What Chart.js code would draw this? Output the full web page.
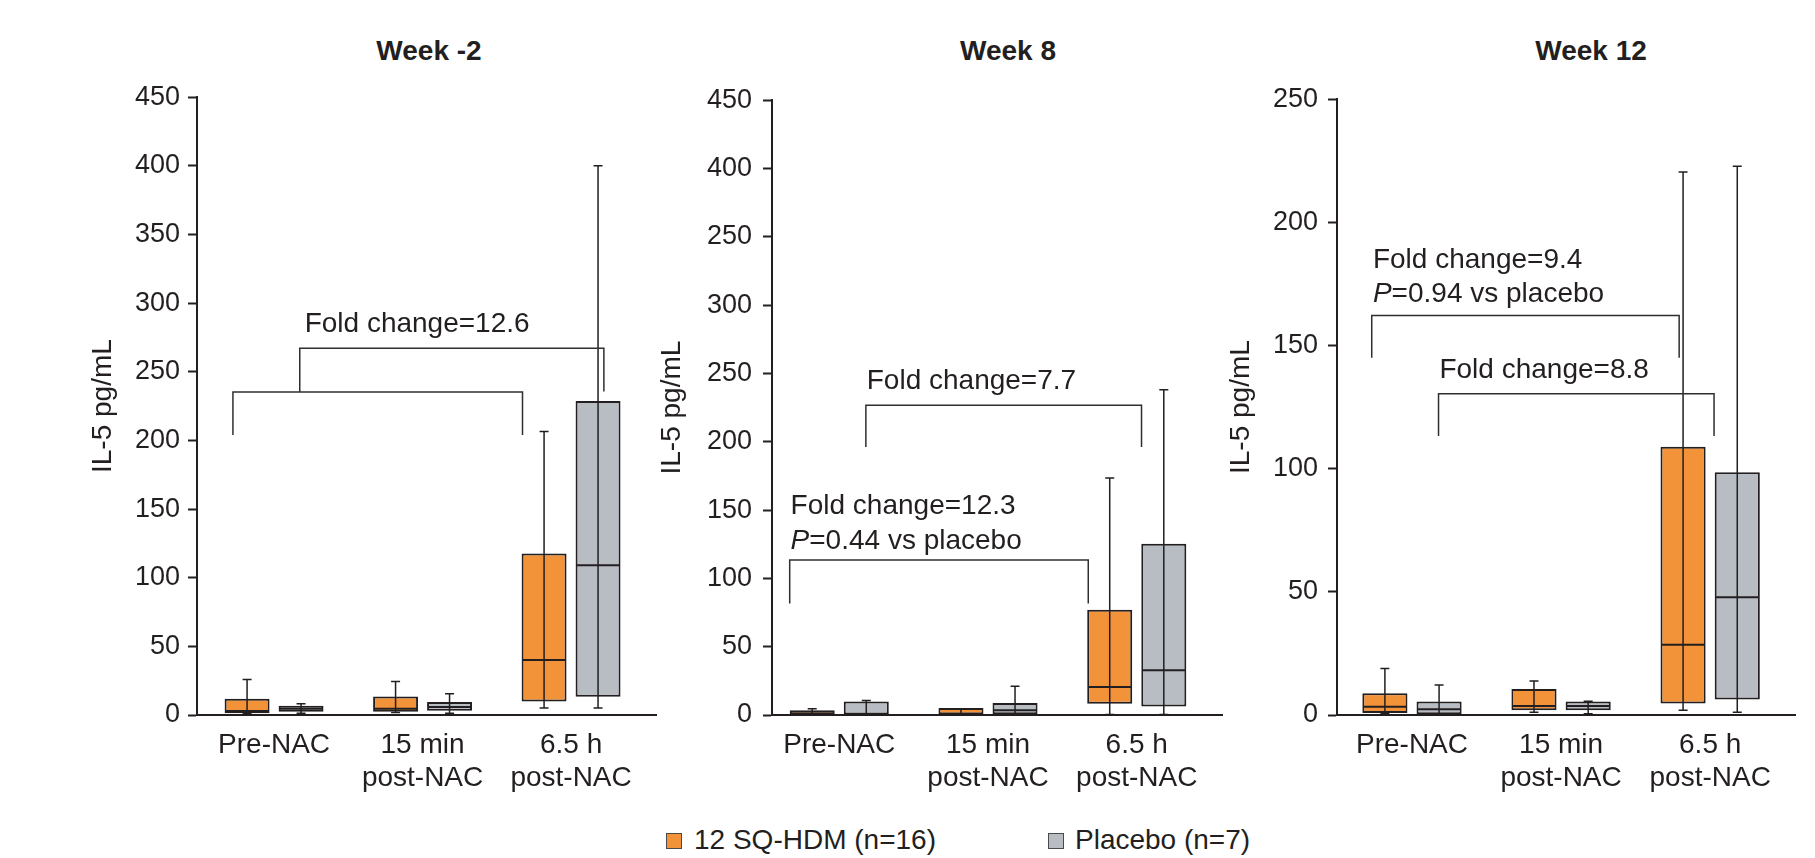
<!DOCTYPE html>
<html>
<head>
<meta charset="utf-8">
<script src="https://cdn.jsdelivr.net/npm/chart.js@4.4.1/dist/chart.umd.min.js"></script>
<style>
  html, body { margin: 0; padding: 0; background: #ffffff; }
  body { width: 1815px; height: 858px; position: relative; overflow: hidden;
         font-family: 'Liberation Sans', Arial, Helvetica, sans-serif; color: #231f20; }
  canvas { position: absolute; }
  .ptitle { position: absolute; top: 37px; font-size: 28px; line-height: 28px; font-weight: bold;
            transform: translateX(-50%); white-space: nowrap; }
  .legend { position: absolute; top: 826px; font-size: 28px; line-height: 28px; white-space: nowrap; }
  .swatch { position: absolute; width: 14px; height: 14px; border: 1px solid #4a4a4a; }
</style>
</head>
<body>
<div class="ptitle" id="t0" style="left:429px"></div>
<div class="ptitle" id="t1" style="left:1008px"></div>
<div class="ptitle" id="t2" style="left:1591px"></div>

<div class="swatch" style="left:666px; top:833px; background:#F29239"></div>
<div class="legend" id="lg0" style="left:694px"></div>
<div class="swatch" style="left:1048px; top:833px; background:#B7BDC3"></div>
<div class="legend" id="lg1" style="left:1075px"></div>

<canvas id="c0" width="572" height="742" style="left:86px; top:73px"></canvas>
<canvas id="c1" width="569" height="742" style="left:655px; top:73px"></canvas>
<canvas id="c2" width="573" height="742" style="left:1224px; top:73px"></canvas>

<script>
// ---------------- data ----------------
const categories = ['Pre-NAC', ['15 min', 'post-NAC'], ['6.5 h', 'post-NAC']];
const seriesNames = ['12 SQ-HDM (n=16)', 'Placebo (n=7)'];
const panelTitles = ['Week -2', 'Week 8', 'Week 12'];
const yAxisTitle = 'IL-5 pg/mL';

const yTickLabelsWkM2 = ['0', '50', '100', '150', '200', '250', '300', '350', '400', '450'];
const yTickLabelsWk8  = ['0', '50', '100', '150', '200', '250', '300', '250', '400', '450'];
const yTickLabelsWk12 = ['0', '50', '100', '150', '200', '250'];

// Week -2
const wkM2HdmMin = [1.0, 1.9, 5.1];
const wkM2HdmQ1  = [1.2, 2.4, 9.9];
const wkM2HdmMed = [2.9, 4.6, 40];
const wkM2HdmQ3  = [11.8, 13.5, 117.6];
const wkM2HdmMax = [25.8, 24.4, 206.5];
const wkM2PboMin = [1.2, 1.2, 5.1];
const wkM2PboQ1  = [2.4, 3.1, 13.3];
const wkM2PboMed = [4.6, 5.8, 109];
const wkM2PboQ3  = [6.8, 9.4, 228.8];
const wkM2PboMax = [8.2, 15.4, 400];

// Week 8
const wk8HdmMin = [0.3, 0.3, 0.3];
const wk8HdmQ1  = [0.4, 0.4, 8.2];
const wk8HdmMed = [1.0, 1.0, 20.5];
const wk8HdmQ3  = [3.4, 5.1, 77];
const wk8HdmMax = [4.6, 4.5, 173.4];
const wk8PboMin = [0.3, 0.3, 0.3];
const wk8PboQ1  = [0.4, 0.5, 6.3];
const wk8PboMed = [0.6, 3.4, 32.8];
const wk8PboQ3  = [9.9, 8.7, 125.4];
const wk8PboMax = [10.6, 21, 238];

// Week 12
const wk12HdmMin = [0.6, 1.1, 1.9];
const wk12HdmQ1  = [0.8, 1.9, 4.7];
const wk12HdmMed = [3.3, 3.7, 28.5];
const wk12HdmQ3  = [8.8, 10.6, 108.9];
const wk12HdmMax = [18.9, 13.8, 220.4];
const wk12PboMin = [0.2, 0.5, 1.1];
const wk12PboQ1  = [0.3, 1.9, 6.3];
const wk12PboMed = [2.3, 3.7, 47.8];
const wk12PboQ3  = [5.5, 5.5, 98.6];
const wk12PboMax = [12.2, 5.6, 222.8];

// Annotation texts
const foldWkM2 = 'Fold change=12.6';
const foldWk8A = 'Fold change=7.7';
const foldWk8B = 'Fold change=12.3';
const pWk8B = '=0.44 vs placebo';
const foldWk12A = 'Fold change=9.4';
const pWk12A = '=0.94 vs placebo';
const foldWk12B = 'Fold change=8.8';

// ---------------- styling ----------------
const INK = '#231f20';
const FONT = "'Liberation Sans', Arial, Helvetica, sans-serif";
const ORANGE = '#F29239';
const GREY = '#B7BDC3';

document.getElementById('t0').textContent = panelTitles[0];
document.getElementById('t1').textContent = panelTitles[1];
document.getElementById('t2').textContent = panelTitles[2];
document.getElementById('lg0').textContent = seriesNames[0];
document.getElementById('lg1').textContent = seriesNames[1];

Chart.defaults.font.family = FONT;
Chart.defaults.color = INK;

const boxExtras = {
  id: 'boxExtras',
  afterDatasetsDraw(chart, args, opts) {
    const ctx = chart.ctx;
    const ys = chart.scales.y, xs = chart.scales.x;
    chart.data.datasets.forEach((ds, di) => {
      const meta = chart.getDatasetMeta(di);
      meta.data.forEach((bar, i) => {
        const x = bar.x, half = bar.width / 2;
        const yMin = ys.getPixelForValue(ds.whMin[i]);
        const yMax = ys.getPixelForValue(ds.whMax[i]);
        const yMed = ys.getPixelForValue(ds.med[i]);
        ctx.save();
        ctx.strokeStyle = INK;
        ctx.lineWidth = 1.5;
        ctx.beginPath();
        ctx.moveTo(x, yMin); ctx.lineTo(x, yMax);
        ctx.moveTo(x - 4.5, yMax); ctx.lineTo(x + 4.5, yMax);
        ctx.moveTo(x - 4.5, yMin); ctx.lineTo(x + 4.5, yMin);
        ctx.stroke();
        ctx.lineWidth = 2;
        ctx.beginPath();
        ctx.moveTo(x - half + 1, yMed); ctx.lineTo(x + half - 1, yMed);
        ctx.stroke();
        ctx.restore();
      });
    });
    (opts.brackets || []).forEach(b => {
      ctx.save();
      ctx.strokeStyle = '#2f2f2f';
      ctx.lineWidth = 1.5;
      const xl = xs.getPixelForValue(b.x1), xr = xs.getPixelForValue(b.x2);
      const yt = ys.getPixelForValue(b.top);
      ctx.beginPath();
      ctx.moveTo(xl, ys.getPixelForValue(b.legL));
      ctx.lineTo(xl, yt);
      ctx.lineTo(xr, yt);
      ctx.lineTo(xr, ys.getPixelForValue(b.legR));
      ctx.stroke();
      ctx.restore();
    });
    (opts.texts || []).forEach(t => {
      ctx.save();
      ctx.fillStyle = INK;
      ctx.textBaseline = 'alphabetic';
      ctx.textAlign = 'left';
      let px = xs.getPixelForValue(t.x);
      const py = ys.getPixelForValue(t.y);
      t.parts.forEach(p => {
        ctx.font = (p.italic ? 'italic ' : '') + '28px ' + FONT;
        ctx.fillText(p.s, px, py);
        px += ctx.measureText(p.s).width;
      });
      ctx.restore();
    });
  }
};

function makePanel(canvasId, cfg) {
  const mk = (stats, color) => ({
    data: stats.q1.map((q, i) => ({ x: i, y: [q, stats.q3[i]] })),
    whMin: stats.min, whMax: stats.max, med: stats.med,
    backgroundColor: color,
    borderColor: INK,
    borderWidth: 2,
    borderSkipped: false,
    categoryPercentage: 0.727,
    barPercentage: 0.833
  });
  return new Chart(document.getElementById(canvasId), {
    type: 'bar',
    data: {
      datasets: [
        Object.assign(mk(cfg.hdm, ORANGE), { label: seriesNames[0] }),
        Object.assign(mk(cfg.pbo, GREY), { label: seriesNames[1] })
      ]
    },
    options: {
      responsive: false,
      animation: false,
      events: [],
      layout: { padding: { top: 20, right: 2, left: 0, bottom: 0 } },
      plugins: {
        legend: { display: false },
        tooltip: { enabled: false },
        title: { display: false },
        boxExtras: { brackets: cfg.brackets, texts: cfg.texts }
      },
      scales: {
        x: {
          type: 'linear',
          offset: false,
          min: cfg.xMin, max: cfg.xMax,
          afterBuildTicks: s => { s.ticks = categories.map((c, i) => ({ value: i })); },
          afterFit: s => { s.height = 100; },
          ticks: {
            callback: v => categories[Math.round(v)],
            font: { size: 28 }, color: INK, padding: 13,
            autoSkip: false, maxRotation: 0, minRotation: 0
          },
          grid: { display: false, drawTicks: false, offset: false },
          border: { display: true, color: INK, width: 2 }
        },
        y: {
          type: 'linear',
          min: 0, max: cfg.yMax,
          afterFit: s => { s.width = cfg.yWidth; },
          ticks: {
            stepSize: 50,
            callback: v => cfg.yLabels[Math.round(v / 50)],
            font: { size: 27 }, color: INK, padding: cfg.tickPad
          },
          grid: { display: true, drawOnChartArea: false, drawTicks: true,
                  tickLength: 9, tickWidth: 2, tickColor: INK, color: INK },
          border: { display: true, color: INK, width: 2 },
          title: { display: true, text: yAxisTitle, font: { size: 28 }, color: INK, padding: 0 }
        }
      }
    },
    plugins: [boxExtras]
  });
}

makePanel('c0', {
  xMin: -0.519, xMax: 2.572, yMax: 450, yWidth: 111, tickPad: 8, yLabels: yTickLabelsWkM2,
  hdm: { min: wkM2HdmMin, q1: wkM2HdmQ1, med: wkM2HdmMed, q3: wkM2HdmQ3, max: wkM2HdmMax },
  pbo: { min: wkM2PboMin, q1: wkM2PboQ1, med: wkM2PboMed, q3: wkM2PboQ3, max: wkM2PboMax },
  brackets: [
    { x1: -0.277, x2: 1.673, top: 235.2, legL: 203.9, legR: 203.9 },
    { x1: 0.173, x2: 2.221, top: 267.1, legL: 235.2, legR: 235.7 }
  ],
  texts: [ { x: 0.206, y: 279.2, parts: [{ s: foldWkM2 }] } ]
});

makePanel('c1', {
  xMin: -0.452, xMax: 2.573, yMax: 450, yWidth: 117, tickPad: 11, yLabels: yTickLabelsWk8,
  hdm: { min: wk8HdmMin, q1: wk8HdmQ1, med: wk8HdmMed, q3: wk8HdmQ3, max: wk8HdmMax },
  pbo: { min: wk8PboMin, q1: wk8PboQ1, med: wk8PboMed, q3: wk8PboQ3, max: wk8PboMax },
  brackets: [
    { x1: 0.179, x2: 2.032, top: 226.8, legL: 196.2, legR: 196.2 },
    { x1: -0.333, x2: 1.674, top: 113.4, legL: 81.6, legR: 81.6 }
  ],
  texts: [
    { x: 0.185, y: 238.8, parts: [{ s: foldWk8A }] },
    { x: -0.327, y: 147.2, parts: [{ s: foldWk8B }] },
    { x: -0.327, y: 121.8, parts: [{ s: 'P', italic: true }, { s: pWk8B }] }
  ]
});

makePanel('c2', {
  xMin: -0.503, xMax: 2.569, yMax: 250, yWidth: 113, tickPad: 10, yLabels: yTickLabelsWk12,
  hdm: { min: wk12HdmMin, q1: wk12HdmQ1, med: wk12HdmMed, q3: wk12HdmQ3, max: wk12HdmMax },
  pbo: { min: wk12PboMin, q1: wk12PboQ1, med: wk12PboMed, q3: wk12PboQ3, max: wk12PboMax },
  brackets: [
    { x1: -0.270, x2: 1.792, top: 162.2, legL: 145.0, legR: 145.0 },
    { x1: 0.178, x2: 2.026, top: 130.4, legL: 113.3, legR: 113.3 }
  ],
  texts: [
    { x: -0.262, y: 181.4, parts: [{ s: foldWk12A }] },
    { x: -0.262, y: 167.6, parts: [{ s: 'P', italic: true }, { s: pWk12A }] },
    { x: 0.184, y: 136.8, parts: [{ s: foldWk12B }] }
  ]
});
</script>
</body>
</html>
